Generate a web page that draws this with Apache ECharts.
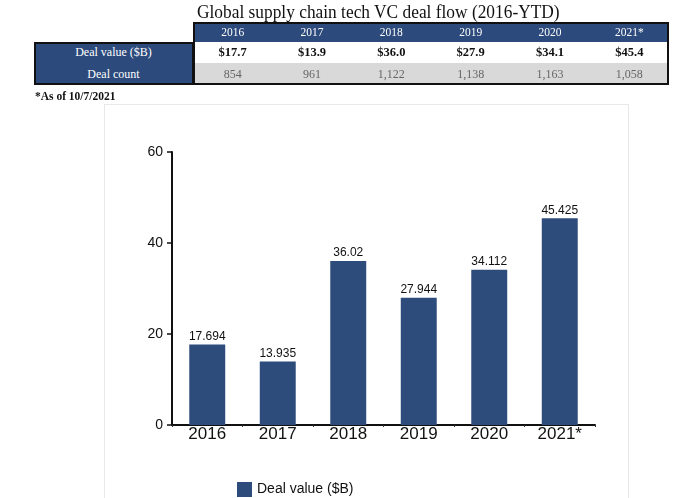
<!DOCTYPE html>
<html>
<head>
<meta charset="utf-8">
<script src="https://cdn.jsdelivr.net/npm/echarts@6/dist/echarts.min.js"></script>
<style>
  html, body { margin: 0; padding: 0; background: #fff; }
  #wrap { position: relative; width: 680px; height: 498px; overflow: hidden; }
  #frame { position: absolute; left: 104px; top: 104px; width: 525px; height: 400px; border: 1px solid #e8e8e8; box-sizing: border-box; }
  #chart { position: absolute; left: 0; top: 0; width: 680px; height: 498px; }
  .t { position: absolute; font-family: "Liberation Serif", "Times New Roman", serif; white-space: nowrap; }
  #title { left: 197px; top: 1px; font-size: 19.5px; color: #111; transform: scaleX(0.89); transform-origin: 0 0; }
  #note { left: 35px; top: 90px; font-size: 11.5px; color: #111; font-weight: bold; }
  .cell { position: absolute; display: flex; align-items: center; justify-content: center; box-sizing: border-box; font-family: "Liberation Serif", "Times New Roman", serif; white-space: nowrap; }
</style>
</head>
<body>
<div id="wrap">
  <div id="frame"></div>
  <div id="chart"></div>
  <div class="t" id="title">Global supply chain tech VC deal flow (2016-YTD)</div>
  <div id="table"></div>
  <div class="t" id="note">*As of 10/7/2021</div>
</div>
<script>
// ---- data ----
var categories = ['2016', '2017', '2018', '2019', '2020', '2021*'];
var dealValue = [17.694, 13.935, 36.02, 27.944, 34.112, 45.425];
var tableValueLabels = ['$17.7', '$13.9', '$36.0', '$27.9', '$34.1', '$45.4'];
var tableCountLabels = ['854', '961', '1,122', '1,138', '1,163', '1,058'];
var rowLabels = ['Deal value ($B)', 'Deal count'];
var seriesName = 'Deal value ($B)';

// ---- table (layout) ----
(function () {
  var tbl = document.getElementById('table');
  var navy = '#2C4A7B';
  var x0 = 193, x1 = 669, lx = 34;
  var yH = 22, yR1 = 42, yR2 = 63, yEnd = 85;
  var cw = (x1 - x0) / categories.length;
  function add(x, y, w, h, text, css) {
    var d = document.createElement('div');
    d.className = 'cell';
    d.style.left = x + 'px'; d.style.top = y + 'px';
    d.style.width = w + 'px'; d.style.height = h + 'px';
    for (var k in css) d.style[k] = css[k];
    d.textContent = text;
    tbl.appendChild(d);
  }
  add(x0, yH, x1 - x0, yR1 - yH, '', { background: navy });
  add(x0, yR1, x1 - x0, yR2 - yR1, '', { background: '#ffffff' });
  add(x0, yR2, x1 - x0, yEnd - yR2, '', { background: '#d9d9d9' });
  add(lx, yR1, x0 - lx, yEnd - yR1, '', { background: navy });
  add(lx, yR1, x0 - lx, yR2 - yR1, rowLabels[0], { color: '#fff', fontSize: '12px' });
  add(lx, yR2, x0 - lx, yEnd - yR2, rowLabels[1], { color: '#fff', fontSize: '12px' });
  for (var i = 0; i < categories.length; i++) {
    var cx = x0 + i * cw;
    add(cx, yH, cw, yR1 - yH, categories[i], { color: '#fff', fontSize: '11.5px' });
    add(cx, yR1, cw, yR2 - yR1, tableValueLabels[i], { color: '#111', fontSize: '12.5px', fontWeight: 'bold' });
    add(cx, yR2, cw, yEnd - yR2, tableCountLabels[i], { color: '#666', fontSize: '12px' });
  }
  add(x0, yH, x1 - x0, yEnd - yH, '', { border: '2px solid #111' });
  add(lx, yR1, x0 - lx + 1, yEnd - yR1, '', { border: '2px solid #111' });
})();

// ---- chart ----
var chart = echarts.init(document.getElementById('chart'), null, { renderer: 'canvas' });
var font = 'Liberation Sans, Arial, sans-serif';
chart.setOption({
  animation: false,
  grid: { left: 172, right: 85, top: 152, bottom: 73, containLabel: false },
  legend: {
    data: [seriesName],
    left: 232, top: 477,
    itemWidth: 15, itemHeight: 15, itemGap: 6,
    icon: 'rect',
    textStyle: { fontFamily: font, fontSize: 14, color: '#111' }
  },
  xAxis: {
    type: 'category',
    data: categories,
    axisLine: { lineStyle: { color: '#111', width: 2 } },
    axisTick: { show: true, length: 2, lineStyle: { color: '#333', width: 1 } },
    axisLabel: { fontFamily: font, fontSize: 17, color: '#111', margin: 1 }
  },
  yAxis: {
    type: 'value',
    min: 0, max: 60, interval: 20,
    splitLine: { show: false },
    axisLine: { show: true, lineStyle: { color: '#111', width: 2 } },
    axisTick: { show: true, length: 5, lineStyle: { color: '#111', width: 1.5 } },
    axisLabel: { fontFamily: font, fontSize: 14, color: '#111', margin: 9 }
  },
  series: [{
    name: seriesName,
    type: 'bar',
    data: dealValue,
    barWidth: '51%',
    itemStyle: { color: '#2D4C7C' },
    label: {
      show: true, position: 'top', distance: 2,
      fontFamily: font, fontSize: 12, color: '#111'
    }
  }]
});
</script>
</body>
</html>
